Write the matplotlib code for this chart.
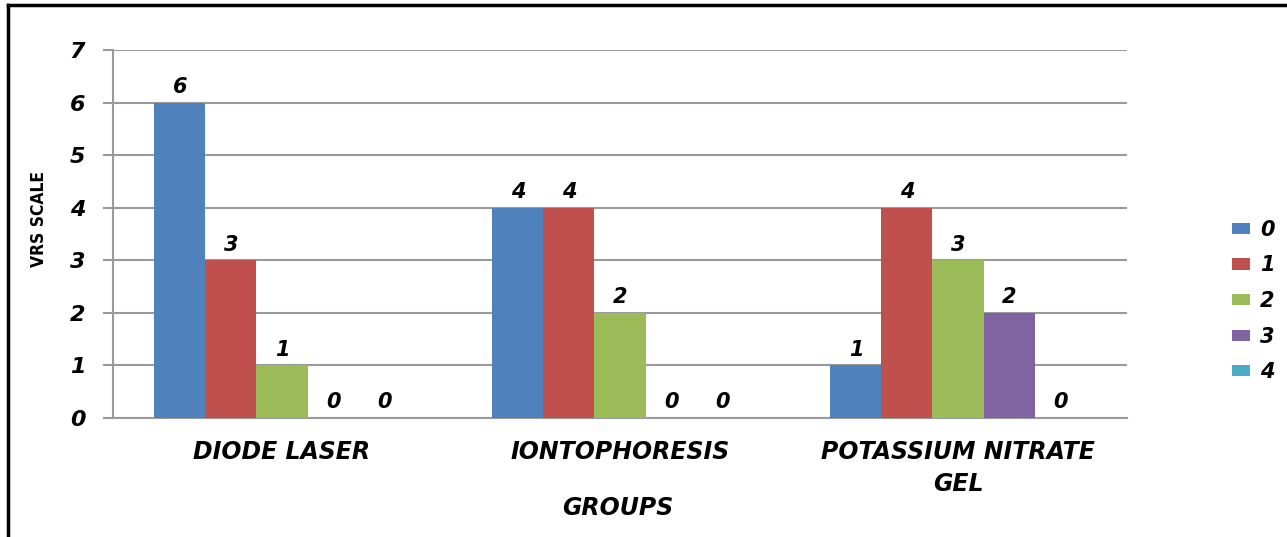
import matplotlib.pyplot as plt
from matplotlib.lines import Line2D
import numpy as np

groups = ["DIODE LASER", "IONTOPHORESIS", "POTASSIUM NITRATE\nGEL"]
series_names = ["0", "1", "2", "3", "4"]
vrs_0 = [6, 4, 1]
vrs_1 = [3, 4, 4]
vrs_2 = [1, 2, 3]
vrs_3 = [0, 0, 2]
vrs_4 = [0, 0, 0]
colors = ["#4F81BD", "#C0504D", "#9BBB59", "#8064A2", "#4BACC6"]

all_series = [vrs_0, vrs_1, vrs_2, vrs_3, vrs_4]

fig = plt.figure(figsize=(12.87, 5.37), dpi=100)
ax = fig.add_axes([113 / 1287, 1 - 418 / 537, 1014 / 1287, 368 / 537])

font = dict(family="DejaVu Sans", weight="bold", style="italic")
x = np.arange(len(groups))
width = 0.151

bars = []
for i, vals in enumerate(all_series):
    pos = x + (i - 2) * width
    b = ax.bar(pos, vals, width, color=colors[i], label=series_names[i], zorder=3)
    bars.append(b)
    for xi, v in zip(pos, vals):
        ax.annotate(str(v), (xi, v), xytext=(0, 4), textcoords="offset points",
                    ha="center", va="bottom", fontsize=15, **font)

ax.set_xlim(-0.5, 2.5)
ax.set_ylim(0, 7)
ax.set_yticks(range(8))
ax.yaxis.grid(True, color="#9a9a9a", linewidth=1.5, zorder=0)
ax.set_axisbelow(True)

for s in ["top", "right"]:
    ax.spines[s].set_visible(False)
ax.spines["left"].set_color("#9a9a9a")
ax.spines["bottom"].set_color("#9a9a9a")
ax.spines["left"].set_linewidth(1.5)
ax.spines["bottom"].set_linewidth(1.5)

ax.tick_params(axis="y", length=7, width=1.5, color="#9a9a9a", pad=13)
ax.tick_params(axis="x", length=0, pad=16)
ax.set_xticks(x)
ax.set_xticklabels(groups, fontsize=17, linespacing=1.4, **font)
for lbl in ax.get_yticklabels():
    lbl.set_fontsize(16)
    lbl.set_fontweight("bold")
    lbl.set_fontstyle("italic")

fig.text(618 / 1287, 1 - 508 / 537, "GROUPS", ha="center", va="center", fontsize=17, **font)
fig.text(39 / 1287, 1 - 219 / 537, "VRS SCALE", ha="center", va="center", rotation=90,
         fontsize=12.5, family="DejaVu Sans", stretch="condensed", weight="bold")

fig.legend(handles=bars, labels=series_names, loc="center left",
           bbox_to_anchor=(1232 / 1287, 1 - 301 / 537), frameon=False,
           prop=dict(family="DejaVu Sans", weight="bold", style="italic", size=15),
           handlelength=0.85, handleheight=0.45, labelspacing=0.75, handletextpad=0.5,
           borderpad=0, borderaxespad=0)

# frame of the cropped picture
fig.add_artist(Line2D([8 / 1287, 8 / 1287], [0, 1 - 5 / 537], color="black", linewidth=2.5))
fig.add_artist(Line2D([8 / 1287, 1], [1 - 5 / 537, 1 - 5 / 537], color="black", linewidth=2.5))

fig.savefig("out.png", dpi=100)
